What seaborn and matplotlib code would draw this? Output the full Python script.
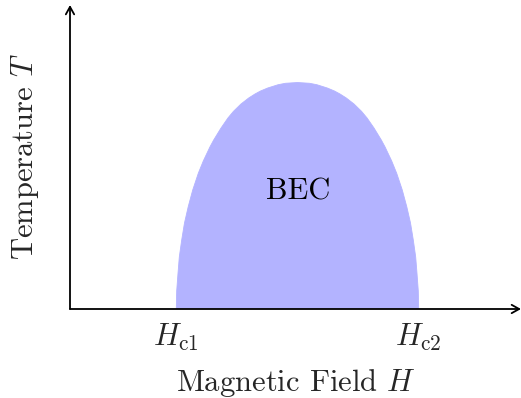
import matplotlib
matplotlib.use("Agg")
import matplotlib.pyplot as plt
import seaborn as sns

# Boundary of the BEC dome:
# temperature levels T and the field H at the left and right edge at each level
T_levels = [0.000, 0.400, 0.793, 1.156, 1.533, 1.911, 2.273, 2.644, 3.016, 3.289, 3.600,
            3.756, 4.022, 4.244, 4.393, 4.556, 4.689, 4.778, 4.844, 4.911, 4.984, 5.016]
H_left = [2.362, 2.371, 2.400, 2.429, 2.482, 2.544, 2.627, 2.727, 2.851, 2.962, 3.109,
          3.193, 3.356, 3.509, 3.633, 3.800, 3.971, 4.111, 4.233, 4.393, 4.624, 4.787]
H_right = [7.749, 7.740, 7.711, 7.682, 7.629, 7.567, 7.484, 7.384, 7.260, 7.149, 7.002,
           6.918, 6.756, 6.602, 6.478, 6.311, 6.140, 6.000, 5.878, 5.718, 5.487, 5.324]
H_peak, T_peak = 5.056, 5.033
tick_pos = [2.36, 7.75]
tick_labels = [r"$H_{\mathrm{c1}}$", r"$H_{\mathrm{c2}}$"]
region_label = "BEC"
region_pos = (5.06, 2.6)

# closed outline: up the left edge, over the peak, down the right edge
H_outline = H_left + [H_peak] + H_right[::-1]
T_outline = T_levels + [T_peak] + T_levels[::-1]

sns.set_theme(style="white")
plt.rcParams["font.family"] = "serif"
plt.rcParams["font.serif"] = ["cmr10", "DejaVu Serif"]
plt.rcParams["mathtext.fontset"] = "cm"
plt.rcParams["axes.unicode_minus"] = False

fill_color = "#B3B3FF"
W, Hpx = 521, 398
fig = plt.figure(figsize=(W / 100, Hpx / 100), dpi=100)
ax = fig.add_axes([70 / W, 89 / Hpx, 451 / W, 304 / Hpx])
ax.set_xlim(0, 451 / 45)
ax.set_ylim(0, 304 / 45)

ax.fill(H_outline, T_outline, color=fill_color, lw=0, zorder=1)
sns.lineplot(x=H_outline, y=T_outline, sort=False, color=fill_color, lw=0.6, ax=ax, zorder=1)

ax.text(region_pos[0], region_pos[1], region_label, ha="center", va="center",
        fontsize=22, color="black")

for s in ax.spines.values():
    s.set_visible(False)

ax.set_xticks(tick_pos)
ax.set_xticklabels(tick_labels, fontsize=22)
ax.set_yticks([])
ax.tick_params(axis="x", length=0, pad=9)

ax.set_xlabel(r"Magnetic Field $H$", fontsize=22, labelpad=10)
ax.set_ylabel(r"Temperature $T$", fontsize=22, labelpad=21)

arrow_kw = dict(arrowstyle="->,head_length=0.45,head_width=0.25", lw=1.3, color="black",
                shrinkA=0, shrinkB=0)
ax.annotate("", xy=(1.0, 0), xytext=(0, 0), xycoords="axes fraction",
            textcoords="axes fraction", arrowprops=arrow_kw, annotation_clip=False, zorder=3)
ax.annotate("", xy=(0, 1.0), xytext=(0, 0), xycoords="axes fraction",
            textcoords="axes fraction", arrowprops=arrow_kw, annotation_clip=False, zorder=3)

fig.savefig("out.png", dpi=100)
